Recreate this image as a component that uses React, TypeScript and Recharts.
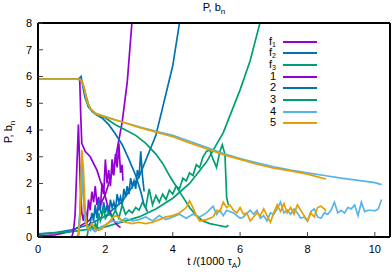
import React from 'react';
import { LineChart, Line, XAxis, YAxis } from 'recharts';

type Pt = [number, number];

// exponential fits
const fit1: Pt[] = [[0, 0.03], [0.5, 0.08], [1, 0.22], [1.5, 0.6], [1.8, 1.05], [2, 1.6], [2.25, 2.6], [2.5, 4.3], [2.65, 5.8], [2.8, 8.2], [2.85, 9]];
const fit2: Pt[] = [[0, 0.1], [0.5, 0.16], [1, 0.27], [1.5, 0.46], [2, 0.78], [2.5, 1.33], [3, 2.25], [3.5, 3.8], [4, 6.4], [4.25, 8.4]];
const fit3: Pt[] = [[0, 0.12], [1, 0.2], [2, 0.38], [3, 0.75], [3.5, 1.05], [4, 1.45], [4.5, 2.0], [5, 2.8], [5.5, 3.9], [6, 5.5], [6.3, 6.6], [6.65, 8.3]];

// P curves
const p1: Pt[] = [[0, 5.9], [1.2, 5.9], [1.24, 5.85], [1.27, 4.5], [1.3, 3.5], [1.4, 3.2], [1.55, 3.0], [1.75, 2.5], [1.85, 2.1], [1.95, 1.75], [2.05, 1.25], [2.15, 0.9], [2.25, 0.62], [2.35, 0.45], [2.45, 0.35]];
const p2: Pt[] = [[0, 5.9], [1.2, 5.9], [1.28, 6.0], [1.32, 5.7], [1.4, 5.2], [1.5, 4.85], [1.7, 4.6], [1.9, 4.45], [2.1, 4.2], [2.3, 3.85], [2.5, 3.45], [2.7, 2.9], [2.9, 2.3], [3.05, 1.7], [3.15, 1.2], [3.25, 0.95]];
const p3: Pt[] = [[0, 5.9], [1.2, 5.9], [1.3, 5.85], [1.4, 5.4], [1.5, 4.95], [1.6, 4.7], [1.8, 4.55], [2, 4.45], [2.3, 4.2], [2.6, 4.0], [2.9, 3.8], [3.2, 3.5], [3.5, 3.1], [3.7, 2.75], [3.9, 2.3], [4.1, 1.9], [4.3, 1.5], [4.5, 1.1], [4.7, 0.8], [4.9, 0.6], [5.1, 0.5], [5.3, 0.45], [5.5, 0.4], [5.6, 0.38], [5.65, 0.45]];
const p4: Pt[] = [[0, 5.9], [1.2, 5.9], [1.3, 5.85], [1.38, 5.5], [1.45, 5.05], [1.55, 4.8], [1.7, 4.62], [2, 4.5], [2.5, 4.3], [3, 4.12], [3.5, 3.95], [4, 3.8], [4.5, 3.58], [5, 3.35], [5.5, 3.12], [6, 2.93], [6.5, 2.77], [7, 2.62], [7.5, 2.5], [8, 2.4], [8.5, 2.3], [9, 2.2], [9.5, 2.12], [10, 2.03], [10.2, 1.96]];
const p5: Pt[] = [[0, 5.9], [1.2, 5.9], [1.3, 5.85], [1.38, 5.55], [1.45, 5.1], [1.55, 4.8], [1.7, 4.62], [2, 4.48], [2.5, 4.3], [3, 4.1], [3.5, 3.92], [4, 3.75], [4.5, 3.52], [5, 3.3], [5.5, 3.08], [6, 2.9], [6.5, 2.72], [7, 2.57], [7.5, 2.47], [8, 2.35], [8.3, 2.25], [8.55, 2.17]];

// b_n curves
const b1: Pt[] = [[1.0, 0], [1.05, 0.2], [1.1, 0.8], [1.15, 2.5], [1.2, 4.2], [1.23, 3.0], [1.26, 1.8], [1.3, 0.9], [1.35, 0.6], [1.4, 1.1], [1.45, 0.5], [1.5, 1.4], [1.55, 1.0], [1.6, 1.7], [1.65, 1.3], [1.7, 1.9], [1.75, 1.2], [1.8, 1.5], [1.85, 1.0], [1.9, 2.0], [1.95, 1.6], [2.0, 2.9], [2.05, 2.0], [2.1, 2.5], [2.15, 1.9], [2.2, 2.9], [2.25, 2.3], [2.3, 3.1], [2.35, 2.6], [2.4, 3.5], [2.45, 2.4], [2.5, 2.7], [2.52, 2.1]];
const b2: Pt[] = [[1.2, 0.05], [1.25, 1.0], [1.3, 2.7], [1.35, 1.6], [1.4, 0.8], [1.45, 0.4], [1.5, 0.3], [1.55, 0.5], [1.6, 0.9], [1.65, 0.6], [1.7, 1.2], [1.75, 0.7], [1.8, 1.4], [1.85, 1.0], [1.9, 0.8], [1.95, 1.3], [2.0, 0.9], [2.05, 1.2], [2.1, 0.8], [2.15, 1.4], [2.2, 1.1], [2.25, 1.3], [2.3, 1.0], [2.35, 1.6], [2.4, 1.3], [2.45, 1.5], [2.5, 1.2], [2.55, 1.8], [2.6, 1.5], [2.65, 1.9], [2.7, 1.6], [2.75, 2.2], [2.8, 1.9], [2.85, 2.1], [2.9, 1.8], [2.95, 2.5], [3.0, 2.2], [3.05, 3.2], [3.1, 2.3], [3.15, 1.7]];
const b3: Pt[] = [[1.45, 0.0], [1.5, 0.3], [1.55, 0.25], [1.6, 0.4], [1.65, 0.3], [1.7, 0.5], [1.75, 0.3], [1.8, 0.9], [1.85, 0.6], [1.9, 0.8], [1.95, 1.1], [2.0, 0.7], [2.1, 0.9], [2.2, 0.75], [2.3, 1.0], [2.4, 0.7], [2.5, 1.2], [2.6, 0.85], [2.7, 1.0], [2.8, 0.9], [2.9, 1.1], [3.0, 1.0], [3.1, 1.3], [3.2, 1.1], [3.3, 1.8], [3.4, 1.2], [3.5, 1.55], [3.6, 1.3], [3.7, 1.6], [3.8, 1.4], [3.9, 1.75], [4.0, 1.6], [4.1, 1.9], [4.2, 1.8], [4.3, 2.2], [4.4, 2.1], [4.5, 2.4], [4.6, 2.3], [4.7, 2.7], [4.8, 2.6], [4.9, 3.0], [5.0, 3.2], [5.1, 3.25], [5.2, 2.9], [5.3, 2.6], [5.4, 3.2], [5.47, 3.45], [5.55, 3.1], [5.6, 1.5], [5.65, 1.2]];
const b4: Pt[] = [[1.15, 0], [1.2, 0.1], [1.25, 1.0], [1.3, 2.6], [1.35, 1.4], [1.4, 0.6], [1.5, 0.25], [1.6, 0.3], [1.7, 0.2], [1.8, 0.3], [1.9, 0.4], [2.0, 0.45], [2.2, 0.6], [2.4, 0.55], [2.6, 0.7], [2.8, 0.6], [3.0, 0.65], [3.2, 0.75], [3.4, 0.6], [3.6, 0.8], [3.8, 0.65], [4.0, 0.75], [4.2, 0.85], [4.4, 0.7], [4.6, 0.85], [4.8, 0.75], [5.0, 0.9], [5.2, 1.15], [5.3, 0.85], [5.4, 1.0], [5.5, 0.8], [5.6, 1.0], [5.8, 0.9], [6.0, 0.7], [6.1, 0.75], [6.3, 1.0], [6.4, 0.85], [6.5, 1.0], [6.6, 0.7], [6.7, 0.8], [6.8, 0.6], [6.9, 0.9], [7.0, 0.85], [7.1, 1.05], [7.2, 1.3], [7.3, 0.9], [7.4, 1.0], [7.5, 0.85], [7.6, 1.05], [7.7, 0.9], [7.8, 0.7], [7.9, 0.75], [8.0, 0.6], [8.1, 0.95], [8.2, 1.05], [8.3, 0.75], [8.4, 0.7], [8.5, 0.9], [8.6, 0.85], [8.7, 1.0], [8.8, 1.3], [8.9, 0.9], [9.0, 1.0], [9.1, 0.9], [9.2, 1.1], [9.3, 1.05], [9.4, 1.2], [9.5, 0.8], [9.6, 1.3], [9.7, 0.95], [9.8, 1.0], [9.9, 1.0], [10.0, 0.98], [10.1, 1.05], [10.2, 1.4]];
const b5: Pt[] = [[1.15, 0], [1.2, 0.05], [1.25, 0.8], [1.3, 3.25], [1.35, 2.5], [1.4, 1.0], [1.45, 0.4], [1.5, 0.3], [1.6, 0.5], [1.7, 0.3], [1.8, 0.25], [1.9, 0.3], [2.0, 0.45], [2.1, 0.55], [2.2, 0.7], [2.3, 0.8], [2.4, 0.75], [2.5, 0.6], [2.6, 0.55], [2.8, 0.5], [3.0, 0.55], [3.2, 0.5], [3.4, 0.55], [3.6, 0.65], [3.8, 0.75], [4.0, 0.8], [4.2, 0.9], [4.4, 1.1], [4.5, 1.35], [4.6, 1.1], [4.7, 0.8], [4.8, 0.6], [5.0, 0.65], [5.2, 0.75], [5.3, 1.0], [5.4, 0.95], [5.5, 1.3], [5.6, 1.1], [5.7, 1.2], [5.8, 1.0], [5.9, 0.9], [6.0, 1.1], [6.1, 0.85], [6.2, 0.9], [6.3, 0.6], [6.4, 0.75], [6.5, 0.9], [6.6, 0.8], [6.7, 1.05], [6.8, 0.8], [6.9, 0.55], [7.0, 0.9], [7.1, 1.2], [7.2, 0.95], [7.3, 1.25], [7.4, 0.9], [7.5, 1.1], [7.6, 0.85], [7.7, 1.2], [7.8, 1.0], [7.9, 0.8], [8.0, 0.6], [8.1, 0.9], [8.2, 0.75], [8.3, 1.1], [8.4, 1.15], [8.5, 1.05], [8.55, 0.95]];

const xTicks = [0, 2, 4, 6, 8, 10];
const yTicks = [0, 1, 2, 3, 4, 5, 6, 7, 8];

const PURPLE = '#9400d3';
const BLUE = '#0072b2';
const GREEN = '#009e73';
const SKY = '#56b4e9';
const ORANGE = '#e69f00';

const legend = [
  { name: 'f', sub: '1', color: PURPLE },
  { name: 'f', sub: '2', color: BLUE },
  { name: 'f', sub: '3', color: GREEN },
  { name: '1', sub: '', color: PURPLE },
  { name: '2', sub: '', color: BLUE },
  { name: '3', sub: '', color: GREEN },
  { name: '4', sub: '', color: SKY },
  { name: '5', sub: '', color: ORANGE },
];

const lines: { id: string; pts: Pt[]; color: string }[] = [
  { id: 'f1', pts: fit1, color: PURPLE },
  { id: 'f2', pts: fit2, color: BLUE },
  { id: 'f3', pts: fit3, color: GREEN },
  { id: 'p1', pts: p1, color: PURPLE },
  { id: 'b1', pts: b1, color: PURPLE },
  { id: 'p2', pts: p2, color: BLUE },
  { id: 'b2', pts: b2, color: BLUE },
  { id: 'p3', pts: p3, color: GREEN },
  { id: 'b3', pts: b3, color: GREEN },
  { id: 'p4', pts: p4, color: SKY },
  { id: 'b4', pts: b4, color: SKY },
  { id: 'p5', pts: p5, color: ORANGE },
  { id: 'b5', pts: b5, color: ORANGE },
];

const toRows = (pts: Pt[]) => pts.map(([t, v]) => ({ t, v }));

const FONT = '"Liberation Sans", Arial, sans-serif';
const tickStyle = { fontSize: 11, fill: '#000', fontFamily: FONT };
const frame = { stroke: '#000', strokeWidth: 2 };
const tickLine = { stroke: '#444', strokeWidth: 1 };
const subStyle: React.CSSProperties = { fontSize: 8, position: 'relative', top: 3, lineHeight: 0 };

export default function App() {
  return (
    <div style={{ position: 'absolute', left: 0, top: 0, width: 392, height: 272, background: '#fff', fontFamily: FONT }}>
      <LineChart width={392} height={272} margin={{ top: 0, right: 0, bottom: 0, left: 0 }}>
        <XAxis
          xAxisId="b"
          type="number"
          dataKey="t"
          domain={[0, 10.45]}
          ticks={xTicks}
          allowDataOverflow
          height={35}
          axisLine={frame}
          tickLine={tickLine}
          tickSize={-5}
          tickMargin={13}
          tick={tickStyle}
        />
        <XAxis
          xAxisId="top"
          orientation="top"
          type="number"
          domain={[0, 10.45]}
          ticks={xTicks}
          height={23}
          axisLine={frame}
          tickLine={tickLine}
          tickSize={-5}
          tick={false}
        />
        <YAxis
          yAxisId="l"
          type="number"
          domain={[0, 8]}
          ticks={yTicks}
          allowDataOverflow
          width={38}
          axisLine={frame}
          tickLine={tickLine}
          tickSize={-5}
          tickMargin={11}
          tick={tickStyle}
        />
        <YAxis
          yAxisId="r"
          orientation="right"
          type="number"
          domain={[0, 8]}
          ticks={yTicks}
          width={2}
          axisLine={frame}
          tickLine={tickLine}
          tickSize={-5}
          tick={false}
        />
        {lines.map((s) => (
          <Line
            key={s.id}
            xAxisId="b"
            yAxisId="l"
            data={toRows(s.pts)}
            dataKey="v"
            type="linear"
            stroke={s.color}
            strokeWidth={1.7}
            dot={false}
            isAnimationActive={false}
          />
        ))}
      </LineChart>

      <div style={{ position: 'absolute', left: 0, width: 392, top: 1, textAlign: 'center', fontSize: 11, lineHeight: '13px', paddingLeft: 36, boxSizing: 'border-box' }}>
        P, b<span style={subStyle}>n</span>
      </div>
      <div style={{ position: 'absolute', left: 0, width: 392, top: 255, textAlign: 'center', fontSize: 11, lineHeight: '13px', paddingLeft: 36, boxSizing: 'border-box' }}>
        t /(1000 τ<span style={subStyle}>A</span>)
      </div>
      <div style={{ position: 'absolute', left: 8, top: 132, width: 0, height: 0 }}>
        <div style={{ position: 'absolute', transform: 'translate(-50%, -50%) rotate(-90deg)', fontSize: 11, lineHeight: '13px', whiteSpace: 'nowrap', left: 0, top: 0 }}>
          P, b<span style={subStyle}>n</span>
        </div>
      </div>

      {legend.map((l, i) => {
        const y = 41.7 + i * 11.65;
        return (
          <div key={i}>
            <div style={{ position: 'absolute', right: 392 - 276, top: y - 6, fontSize: 11, lineHeight: '11px', whiteSpace: 'nowrap' }}>
              {l.name}
              {l.sub && <span style={{ fontSize: 7, position: 'relative', top: 2, lineHeight: 0 }}>{l.sub}</span>}
            </div>
            <div style={{ position: 'absolute', left: 283, width: 34, top: y - 1, height: 2, background: l.color }} />
          </div>
        );
      })}
    </div>
  );
}
